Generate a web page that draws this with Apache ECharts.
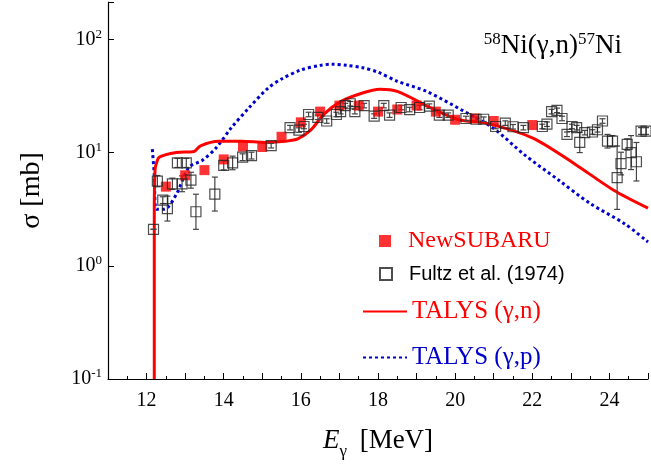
<!DOCTYPE html>
<html>
<head>
<meta charset="utf-8">
<script src="https://cdn.jsdelivr.net/npm/echarts@6/dist/echarts.min.js"></script>
<style>html,body{margin:0;padding:0;background:#fff}#chart{width:651px;height:465px}</style>
</head>
<body>
<div id="chart"></div>
<script>
// y values are log10(sigma / mb)
const yTicks = [-1, 0, 1, 2];

// NewSUBARU: [E (MeV), sigma (mb)]
const newSubaru = [
  [12.5, 5.0], [13.0, 6.3], [13.5, 7.0], [14.0, 8.7], [14.5, 11.3], [15.0, 11.2],
  [15.5, 13.8], [16.0, 18.5], [16.5, 23], [17.0, 26], [17.5, 26], [18.0, 23],
  [18.5, 24], [19.0, 26], [19.5, 23], [20.0, 19.5], [20.5, 20], [21.0, 19], [22.0, 17.5]
];

// Fultz et al. (1974): [E, sigma, log10 error half-width]
const fultz = [
  [12.18, 2.1, 0], [12.28, 5.6, 0.05], [12.42, 3.8, 0.03], [12.54, 3.2, 0.11],
  [12.67, 5.3, 0.05], [12.8, 8.1, 0.04], [12.92, 5.3, 0.07], [13.03, 8.1, 0.04],
  [13.15, 5.7, 0.07], [13.28, 3.0, 0.155], [13.77, 4.3, 0.15], [14.0, 7.7, 0.04],
  [14.23, 8.1, 0.06], [14.49, 9.1, 0.03], [14.72, 9.4, 0.03], [15.23, 11.5, 0.02],
  [15.72, 16.6, 0.02], [15.95, 15.8, 0.02], [16.08, 17, 0.02], [16.2, 21.7, 0.02],
  [16.44, 20.5, 0.02], [16.67, 19, 0.02], [16.92, 21.7, 0.02], [17.03, 23, 0.02],
  [17.15, 26, 0.02], [17.28, 27, 0.02], [17.4, 23, 0.02], [17.64, 26, 0.02],
  [17.9, 21, 0.02], [18.15, 26, 0.02], [18.3, 21.4, 0.02], [18.6, 25, 0.02],
  [18.82, 24, 0.02], [19.08, 25, 0.02], [19.33, 25.7, 0.02], [19.59, 21.4, 0.02],
  [19.82, 21.4, 0.02], [20.28, 20, 0.02], [20.54, 19.7, 0.02], [20.74, 19.7, 0.02],
  [21.05, 17, 0.02], [21.3, 18.2, 0.02], [21.5, 16.9, 0.02], [21.77, 16.6, 0.02],
  [22.26, 17, 0.02], [22.38, 17.8, 0.02], [22.5, 23, 0.02], [22.64, 23.6, 0.02],
  [22.77, 20, 0.02], [22.9, 14.5, 0.02], [23.03, 17, 0.02], [23.15, 16.6, 0.02],
  [23.23, 12.3, 0.09], [23.36, 15, 0.02], [23.56, 15.2, 0.02], [23.69, 15.9, 0.02],
  [23.82, 19, 0.02], [23.95, 12.6, 0.06], [24.08, 12.6, 0.05], [24.2, 6.0, 0.28],
  [24.3, 8.0, 0.1], [24.46, 11.8, 0.05], [24.56, 10, 0.15], [24.7, 8.3, 0.17],
  [24.82, 15.5, 0.03], [24.95, 15.5, 0.03]
];

// TALYS curves: [E, log10 sigma]
const talysN = [
  [12.2, -1], [12.2, 0.5], [12.22, 0.85], [12.26, 0.91], [12.33, 0.96], [12.77, 1.0],
  [13.23, 1.01], [13.4, 1.06], [13.87, 1.1], [14.46, 1.1], [15.08, 1.09], [15.6, 1.1],
  [15.92, 1.12], [16.26, 1.2], [16.6, 1.34], [17.03, 1.45], [17.54, 1.52], [18.05, 1.56],
  [18.5, 1.54], [19.4, 1.39], [20.1, 1.29], [20.8, 1.26], [22.0, 1.13], [23.1, 0.9],
  [24.1, 0.67], [25.0, 0.51]
];
const talysP = [
  [12.15, 1.03], [12.2, 0.8], [12.25, 0.5], [12.46, 0.5], [12.77, 0.63], [13.1, 0.87],
  [13.44, 0.93], [13.8, 1.04], [14.2, 1.22], [14.64, 1.39], [15.15, 1.57], [15.5, 1.65],
  [16.0, 1.73], [16.5, 1.77], [16.8, 1.78], [17.2, 1.77], [17.6, 1.75], [18.0, 1.71],
  [18.5, 1.63], [19.26, 1.54], [20.2, 1.37], [20.97, 1.22], [21.8, 0.98], [22.67, 0.76],
  [23.5, 0.55], [24.4, 0.37], [25.0, 0.21]
];

const lg = v => Math.log10(v);
const serif = 'Liberation Serif';

const chart = echarts.init(document.getElementById('chart'));
chart.setOption({
  animation: false,
  textStyle: { fontFamily: serif },
  grid: { left: 108, right: 1, top: 2, bottom: 80 },
  title: {
    text: '{s|58}Ni(γ,n){s|57}Ni',
    right: 24, top: 26,
    textStyle: {
      fontFamily: serif, fontSize: 27, fontWeight: 'normal', color: '#000',
      rich: {
        s: { fontFamily: serif, fontSize: 17, verticalAlign: 'top', padding: [0, 0, 12, 0] }
      }
    }
  },
  xAxis: {
    type: 'value', min: 11, max: 25, interval: 1,
    axisLine: { onZero: false, lineStyle: { color: '#000', width: 1.2 } },
    axisTick: { inside: true, length: 6, lineStyle: { color: '#000' } },
    minorTick: { show: true, splitNumber: 2, length: 3, lineStyle: { color: '#000' } },
    splitLine: { show: false },
    axisLabel: {
      color: '#000', fontFamily: serif, fontSize: 20, margin: 12,
      formatter: v => (v % 2 === 0 ? String(v) : '')
    },
    name: '{i|E}{sub|γ} [MeV]',
    nameLocation: 'middle', nameGap: 42,
    nameTextStyle: {
      color: '#000', fontFamily: serif, fontSize: 27,
      rich: {
        i: { fontFamily: serif, fontSize: 27, fontStyle: 'italic' },
        sub: { fontFamily: serif, fontSize: 17, verticalAlign: 'bottom', padding: [22, 6, 0, 0] }
      }
    }
  },
  yAxis: {
    type: 'value', min: -1, max: 2.33, interval: 1,
    axisLine: { show: true, onZero: false, lineStyle: { color: '#000', width: 1.2 } },
    axisTick: { show: true, inside: true, length: 6, lineStyle: { color: '#000' } },
    splitLine: { show: false },
    axisLabel: {
      color: '#000', fontFamily: serif, fontSize: 20, margin: 6,
      formatter: v => (yTicks.indexOf(v) >= 0 ? '{b|10}{s|' + v + '}' : ''),
      rich: {
        b: { fontFamily: serif, fontSize: 20, color: '#000' },
        s: { fontFamily: serif, fontSize: 13, color: '#000', verticalAlign: 'top', padding: [0, 0, 10, 0] }
      }
    },
    name: 'σ [mb]',
    nameLocation: 'middle', nameGap: 62, nameRotate: 90,
    nameTextStyle: { color: '#000', fontFamily: serif, fontSize: 28 }
  },
  legend: [
    { data: [{ name: 'NewSUBARU', textStyle: { color: '#f00' } }], left: 374, top: 224, itemWidth: 12, itemHeight: 12,
      textStyle: { fontFamily: serif, fontSize: 24, padding: [0, 0, 0, 12] } },
    { data: [{ name: 'Fultz et al. (1974)', textStyle: { color: '#000' } }], left: 374, top: 259, itemWidth: 12, itemHeight: 12,
      textStyle: { fontFamily: 'Liberation Sans', fontSize: 20, padding: [0, 0, 0, 12] } },
    { data: [{ name: 'TALYS (γ,n)', textStyle: { color: '#f00' }, itemStyle: { opacity: 0 } }], left: 357, top: 294, itemWidth: 44, itemHeight: 14,
      textStyle: { fontFamily: serif, fontSize: 25, padding: [0, 0, 0, 0] } },
    { data: [{ name: 'TALYS (γ,p)', textStyle: { color: '#00c' }, itemStyle: { opacity: 0 } }], left: 357, top: 340, itemWidth: 44, itemHeight: 14,
      textStyle: { fontFamily: serif, fontSize: 25, padding: [0, 0, 0, 0] } }
  ],
  series: [
    {
      name: 'TALYS (γ,p)', type: 'line', data: talysP, symbol: 'none', smooth: 0.3, z: 2,
      lineStyle: { color: '#00c', width: 3, type: [3, 3] }, itemStyle: { color: '#00c' }
    },
    {
      name: 'TALYS (γ,n)', type: 'line', data: talysN, symbol: 'none', smooth: 0.3, z: 3,
      lineStyle: { color: '#f00', width: 3 }, itemStyle: { color: '#f00' }
    },
    {
      name: 'errbars', type: 'custom', z: 4, silent: true,
      data: fultz.map(d => [d[0], lg(d[1]) - d[2], lg(d[1]) + d[2]]),
      renderItem: (params, api) => {
        const lo = api.coord([api.value(0), api.value(1)]);
        const hi = api.coord([api.value(0), api.value(2)]);
        const st = { stroke: '#444', lineWidth: 1.2 };
        return {
          type: 'group', children: [
            { type: 'line', shape: { x1: lo[0], y1: lo[1], x2: hi[0], y2: hi[1] }, style: st },
            { type: 'line', shape: { x1: lo[0] - 3, y1: lo[1], x2: lo[0] + 3, y2: lo[1] }, style: st },
            { type: 'line', shape: { x1: hi[0] - 3, y1: hi[1], x2: hi[0] + 3, y2: hi[1] }, style: st }
          ]
        };
      }
    },
    {
      name: 'NewSUBARU', type: 'scatter', symbol: 'rect', symbolSize: 10, z: 5,
      data: newSubaru.map(d => [d[0], lg(d[1])]),
      itemStyle: { color: '#f00' }
    },
    {
      name: 'Fultz et al. (1974)', type: 'scatter', symbol: 'rect', symbolSize: 10, z: 6,
      data: fultz.map(d => [d[0], lg(d[1])]),
      itemStyle: { color: 'rgba(255,255,255,0)', borderColor: '#222', borderWidth: 1.2 }
    }
  ]
});
</script>
</body>
</html>
